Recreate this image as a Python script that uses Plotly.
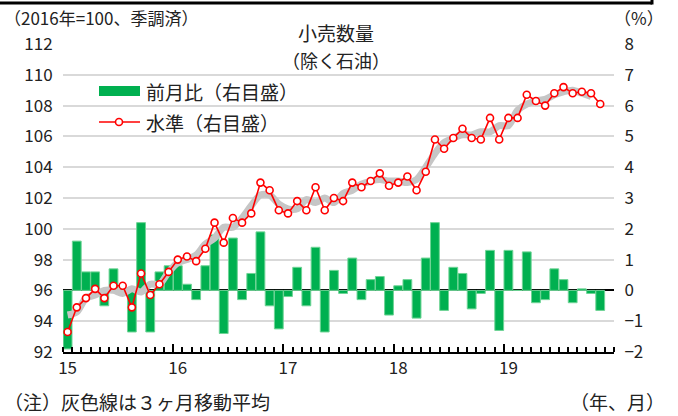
import plotly.graph_objects as go
import pandas as pd

# ---- data ----
months = pd.date_range("2015-01-01", "2019-11-01", freq="MS").strftime("%Y-%m").tolist()

level = [93.3, 94.9, 95.5, 96.1, 95.5, 96.3, 96.3, 94.9, 97.1, 95.7, 96.4, 97.2,
         98.0, 98.2, 97.9, 98.7, 100.4, 99.1, 100.7, 100.4, 101.0, 103.0, 102.5, 101.2,
         101.0, 101.8, 101.2, 102.7, 101.2, 102.0, 101.8, 103.0, 102.7, 103.1, 103.6, 102.8,
         103.0, 103.4, 102.5, 103.7, 105.8, 105.2, 105.9, 106.5, 105.9, 105.8, 107.2, 105.8,
         107.2, 107.2, 108.7, 108.3, 108.0, 108.8, 109.2, 108.8, 108.9, 108.8, 108.1]

mom = [-1.9, 1.6, 0.6, 0.6, -0.5, 0.7, 0.02, -1.35, 2.2, -1.35, 0.6, 0.8,
       0.8, 0.2, -0.3, 0.8, 1.8, -1.4, 1.7, -0.3, 0.55, 1.9, -0.5, -1.25,
       -0.2, 0.75, -0.5, 1.4, -1.35, 0.65, -0.1, 1.05, -0.3, 0.35, 0.45, -0.8,
       0.15, 0.35, -0.9, 1.05, 2.2, -0.65, 0.75, 0.55, -0.6, -0.1, 1.3, -1.3,
       1.3, 0.0, 1.25, -0.4, -0.3, 0.7, 0.35, -0.4, 0.05, -0.1, -0.65]

ma3 = [94.4, 94.6, 95.5, 95.7, 96.0, 96.0, 95.8, 96.1, 95.9, 96.4, 96.4, 97.2,
       97.8, 98.0, 98.3, 99.0, 99.4, 100.1, 100.1, 100.7, 101.5, 102.2, 102.2, 101.6,
       101.3, 101.3, 101.9, 101.7, 102.0, 101.7, 102.3, 102.5, 102.9, 103.1, 103.2, 103.1,
       103.1, 103.0, 103.2, 104.0, 104.9, 105.6, 105.9, 106.1, 106.1, 106.3, 106.3, 106.7,
       106.7, 107.7, 108.1, 108.3, 108.4, 108.7, 108.9, 109.0, 108.8, 108.6, None]

year_labels = ["15", "16", "17", "18", "19"]
year_months = ["2015-01", "2016-01", "2017-01", "2018-01", "2019-01"]

x = list(range(len(months)))
n_slots = 60

GREEN = "#00b050"
RED = "#ff0000"
GREY = "#c6c6c6"
NUM_FONT = "Liberation Sans Narrow, Noto Sans CJK JP, sans-serif"
JP_FONT = "Noto Sans CJK JP, sans-serif"

fig = go.Figure()

fig.add_trace(go.Bar(
    x=x, y=mom, yaxis="y", xaxis="x",
    marker=dict(color=GREEN, line=dict(color="#6fd496", width=1)),
    showlegend=False, name="前月比（右目盛）"))

fig.add_trace(go.Scatter(
    x=x, y=ma3, yaxis="y2", xaxis="x", mode="lines",
    line=dict(color=GREY, width=7, shape="spline", smoothing=0.8),
    connectgaps=False, showlegend=False, name="3ヶ月移動平均"))

fig.add_trace(go.Scatter(
    x=x, y=level, yaxis="y2", xaxis="x", mode="lines+markers",
    line=dict(color=RED, width=1.6),
    marker=dict(symbol="circle", size=7, color="white", line=dict(color=RED, width=1.6)),
    showlegend=False, name="水準（右目盛）"))

# helper trace for the year-boundary ticks axis
fig.add_trace(go.Scatter(x=[None], y=[None], xaxis="x2", yaxis="y",
                         showlegend=False, hoverinfo="skip"))

L, R, T, B = 63, 64, 44, 64
W, H = 678, 416
pw, ph = W - L - R, H - T - B


def px(v):
    return (v - L) / pw


def py(v):
    return (H - B - v) / ph


year_idx = [months.index(m) for m in year_months]

fig.update_layout(
    width=W, height=H,
    margin=dict(l=L, r=R, t=T, b=B, pad=0, autoexpand=False),
    paper_bgcolor="white", plot_bgcolor="white",
    bargap=0.04,
    xaxis=dict(
        range=[-0.5, n_slots - 0.5], tickmode="array",
        tickvals=year_idx, ticktext=year_labels,
        ticks="", showgrid=False, zeroline=False,
        showline=True, linecolor="black", linewidth=2,
        tickfont=dict(family=NUM_FONT, size=17, color="#222"),
        minor=dict(tickmode="array", tickvals=[i - 0.5 for i in range(n_slots + 1)],
                   ticks="inside", ticklen=5, tickwidth=1.5, tickcolor="black"),
    ),
    xaxis2=dict(
        overlaying="x", anchor="y", side="bottom",
        range=[-0.5, n_slots - 0.5], tickmode="array",
        tickvals=[i - 0.5 for i in year_idx[1:]] + [n_slots - 0.5],
        ticks="inside", ticklen=8, tickwidth=1.5, tickcolor="black",
        showticklabels=False, showgrid=False, zeroline=False, showline=False,
    ),
    yaxis=dict(
        range=[-2, 8], side="right", tickmode="array", tickvals=list(range(-2, 9)),
        showgrid=True, gridcolor="#d9d9d9", gridwidth=2,
        zeroline=True, zerolinecolor="black", zerolinewidth=2,
        ticks="outside", ticklen=6, tickcolor="rgba(0,0,0,0)",
        tickfont=dict(family=NUM_FONT, size=17, color="#222"),
        showline=False,
    ),
    yaxis2=dict(
        range=[92, 112], side="left", overlaying="y", anchor="x",
        tickmode="array", tickvals=list(range(92, 113, 2)),
        showgrid=False, zeroline=False, showline=False,
        ticks="outside", ticklen=6, tickcolor="rgba(0,0,0,0)",
        tickfont=dict(family=NUM_FONT, size=17, color="#222"),
    ),
)

ann = [
    dict(text="（2016年=100、季調済）", x=px(2), y=py(17), xanchor="left", size=17),
    dict(text="（%）", x=px(666), y=py(17), xanchor="right", size=17),
    dict(text="小売数量", x=px(336), y=py(32), xanchor="center", size=19),
    dict(text="（除く石油）", x=px(336), y=py(60), xanchor="center", size=18),
    dict(text="前月比（右目盛）", x=px(144), y=py(91), xanchor="left", size=19),
    dict(text="水準（右目盛）", x=px(144), y=py(122), xanchor="left", size=19),
    dict(text="（注）灰色線は３ヶ月移動平均", x=px(2), y=py(401), xanchor="left", size=19),
    dict(text="（年、月）", x=px(667), y=py(401), xanchor="right", size=19),
]
for a in ann:
    fig.add_annotation(text=a["text"], x=a["x"], y=a["y"], xref="paper", yref="paper",
                       xanchor=a["xanchor"], yanchor="middle", showarrow=False,
                       font=dict(family=JP_FONT, size=a["size"], color="#222"))

# custom legend keys
fig.add_shape(type="rect", xref="paper", yref="paper",
              x0=px(99), x1=px(140), y0=py(96), y1=py(86),
              fillcolor=GREEN, line=dict(width=0))
fig.add_shape(type="line", xref="paper", yref="paper",
              x0=px(99), x1=px(140), y0=py(122), y1=py(122),
              line=dict(color=RED, width=1.6))
fig.add_shape(type="circle", xref="paper", yref="paper",
              x0=px(115.5), x1=px(122.5), y0=py(125.5), y1=py(118.5),
              fillcolor="white", line=dict(color=RED, width=1.6))

# frame line at the very top
fig.add_shape(type="line", xref="paper", yref="paper",
              x0=px(0), x1=px(652), y0=py(3), y1=py(3),
              line=dict(color="black", width=3))
fig.add_shape(type="line", xref="paper", yref="paper",
              x0=px(652), x1=px(652), y0=py(4.5), y1=py(0),
              line=dict(color="black", width=3))

fig.write_html("out.html",
               config={"displayModeBar": False},
               post_script="document.body.style.margin='0';document.body.style.padding='0';")
